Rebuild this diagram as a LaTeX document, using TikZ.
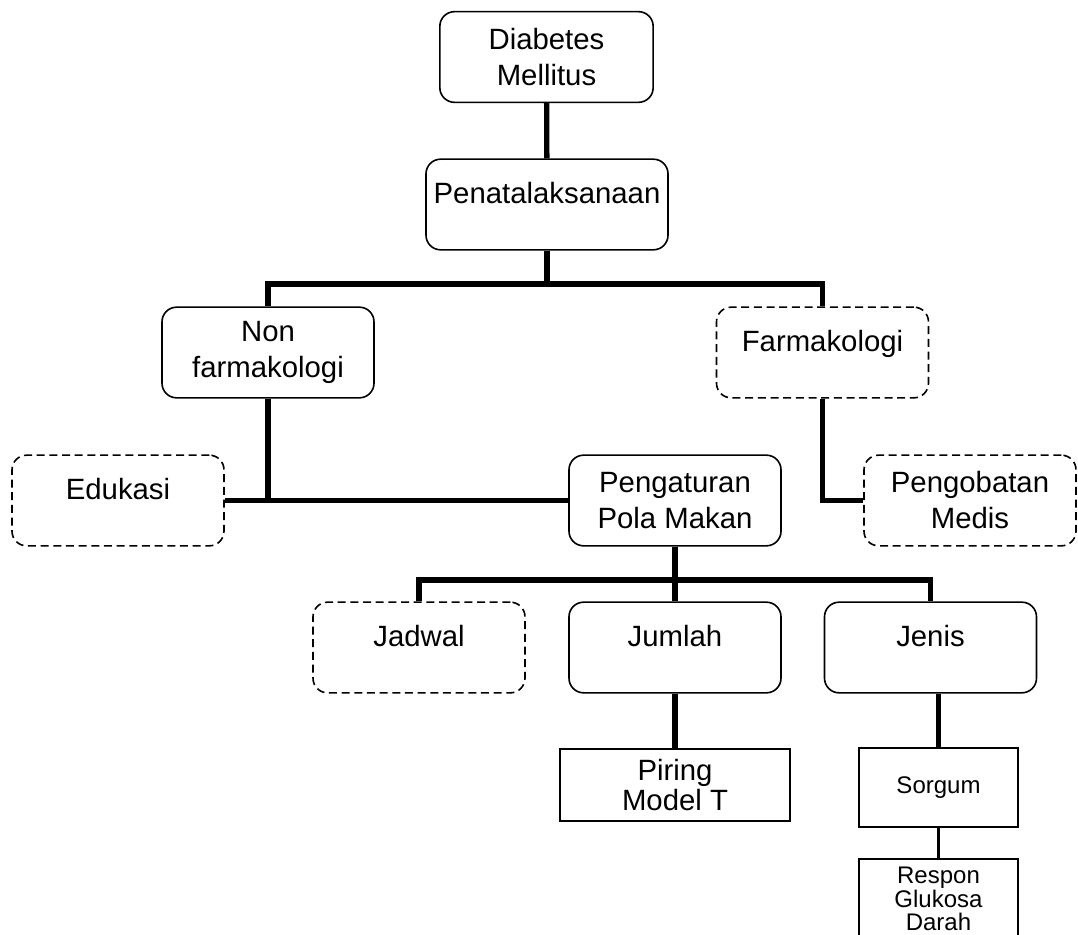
\documentclass[tikz,border=0pt]{standalone}
\usepackage{fontspec}
\setmainfont{Liberation Sans}
\tikzstyle{box}=[draw,rounded corners=11pt,line width=1.2pt,minimum width=159pt,minimum height=68pt,inner sep=2pt,align=center,font=\fontsize{22}{27}\selectfont]
\tikzstyle{dbox}=[box,dash pattern=on 6pt off 3.5pt]
\tikzstyle{oneline}=[text height=15.5pt,text depth=17.5pt]
\tikzstyle{plain}=[draw,line width=1.4pt,align=center,inner sep=1pt]
\tikzstyle{link}=[line width=4pt]

\begin{document}
\begin{tikzpicture}[x=0.75pt,y=-0.75pt]
\clip (0,0) rectangle (1078,935);
\node[box,minimum width=160pt] (dm) at (546.5,57) {Diabetes\\Mellitus};
\node[box,oneline,minimum width=181.5pt] (pen) at (547,204.5) {Penatalaksanaan};
\node[box] (nonf) at (268,352.5) {Non\\farmakologi};
\node[dbox,oneline] (farm) at (822.5,352.5) {Farmakologi};
\node[dbox,oneline] (edu) at (118,500.5) {Edukasi};
\node[box] (atur) at (675,500.5) {Pengaturan\\Pola Makan};
\node[dbox] (obat) at (970,500.5) {Pengobatan\\Medis};
\node[dbox,oneline] (jadwal) at (419,647.5) {Jadwal};
\node[box,oneline] (jumlah) at (675,647.5) {Jumlah};
\node[box,oneline] (jenis) at (930.5,647.5) {Jenis};
\node[plain,minimum width=172.5pt,minimum height=54pt,font=\fontsize{22}{23}\selectfont] (piring) at (675,785) {Piring\\Model T};
\node[plain,minimum width=119pt,minimum height=59pt,font=\fontsize{18}{17.5}\selectfont] (sorgum) at (938.5,787.5) {Sorgum};
\node[plain,minimum width=119pt,minimum height=60pt,font=\fontsize{18}{17.5}\selectfont] (respon) at (938.5,899) {Respon\\Glukosa\\Darah};
\coordinate (bus1) at (547,284);
\coordinate (bus2) at (675,580);
\draw[link] (dm) -- (pen);
\draw[link] (pen.south) -- (bus1);
\draw[link] (nonf.north) |- (bus1) -| (farm.north);
\draw[link] (nonf.south) -- (nonf.south |- edu.east);
\draw[link] (edu.east) -- (atur.west);
\draw[link] (farm.south) |- (obat.west);
\draw[link] (atur.south) -- (jumlah.north);
\draw[link] (jadwal.north) |- (bus2) -| (jenis.north);
\draw[link] (jumlah) -- (piring);
\draw[link] (sorgum.north) -- (sorgum.north |- jenis.south);
\draw[line width=2pt] (sorgum) -- (respon);
\end{tikzpicture}
\end{document}
